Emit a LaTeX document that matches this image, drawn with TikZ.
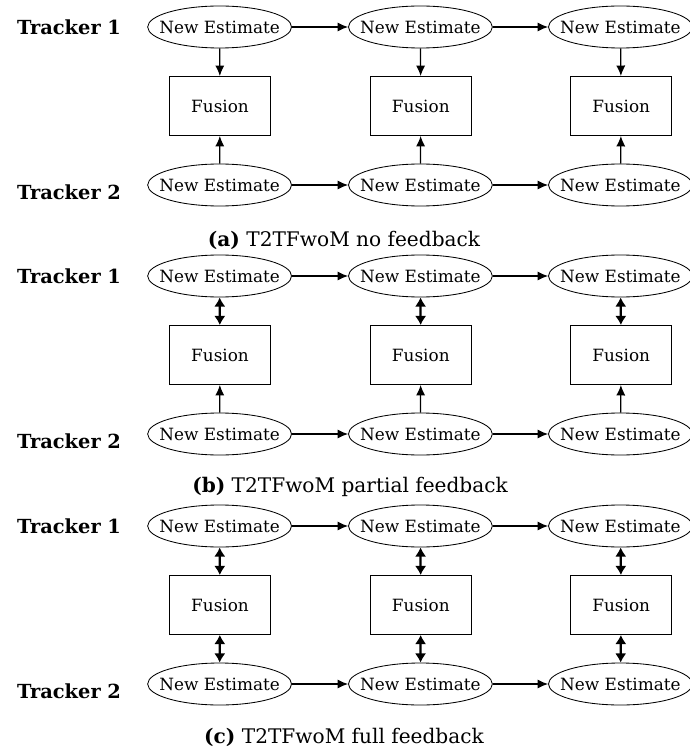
\documentclass[tikz,border=0pt]{standalone}
\usepackage{fontspec}
\setmainfont{DejaVu Serif}
\usepackage{tikz}
\usetikzlibrary{arrows.meta,shapes.geometric}
\tikzset{Est/.style={ellipse,draw,semithick,inner xsep=-0.235cm,inner ysep=0pt,minimum height=1.05cm,font=\fontsize{12}{14}\selectfont},
  Fus/.style={rectangle,draw,semithick,minimum width=2.525cm,minimum height=1.475cm,font=\fontsize{12}{14}\selectfont},
  Trk/.style={anchor=west,inner sep=0pt,font=\fontsize{13.8}{15}\selectfont\bfseries},
  Cap/.style={font=\fontsize{14.3}{16}\selectfont},
  one/.style={line width=0.9pt,-{Latex[length=7.5pt,width=6.5pt]}},
  two/.style={line width=1.6pt,{Latex[length=6.5pt,width=8pt]}-{Latex[length=6.5pt,width=8pt]}}}

\begin{document}
\begin{tikzpicture}
  \useasboundingbox[fill=white] (0,0) rectangle (17.225,-18.8);
  % (a) no feedback
  \node[Trk] (la1) at (0.42,-0.675) {Tracker 1};
  \node[Trk] (la2) at (0.42,-4.8) {Tracker 2};
  \node[Est] (a11) at (5.49,-0.675) {New Estimate};
  \node[Est] (a12) at (10.51,-0.675) {New Estimate};
  \node[Est] (a13) at (15.51,-0.675) {New Estimate};
  \node[Fus] (af1) at (5.5,-2.65) {Fusion};
  \node[Fus] (af2) at (10.52,-2.65) {Fusion};
  \node[Fus] (af3) at (15.53,-2.65) {Fusion};
  \node[Est] (a21) at (5.49,-4.625) {New Estimate};
  \node[Est] (a22) at (10.51,-4.625) {New Estimate};
  \node[Est] (a23) at (15.51,-4.625) {New Estimate};
  \begin{scope}[one]
    \draw (a11) -- (a12); \draw (a12) -- (a13);
    \draw (a21) -- (a22); \draw (a22) -- (a23);
    \draw (a11) -- (af1); \draw (a12) -- (af2); \draw (a13) -- (af3);
    \draw (a21) -- (af1); \draw (a22) -- (af2); \draw (a23) -- (af3);
  \end{scope}
  \node[Cap] (capa) at (8.6,-6.0) {\textbf{(a)} T2TFwoM no feedback};
  % (b) partial feedback
  \begin{scope}[yshift=-6.225cm]
    \node[Trk] (lb1) at (0.42,-0.675) {Tracker 1};
    \node[Trk] (lb2) at (0.42,-4.8) {Tracker 2};
    \node[Est] (b11) at (5.49,-0.675) {New Estimate};
    \node[Est] (b12) at (10.51,-0.675) {New Estimate};
    \node[Est] (b13) at (15.51,-0.675) {New Estimate};
    \node[Fus] (bf1) at (5.5,-2.65) {Fusion};
    \node[Fus] (bf2) at (10.52,-2.65) {Fusion};
    \node[Fus] (bf3) at (15.53,-2.65) {Fusion};
    \node[Est] (b21) at (5.49,-4.625) {New Estimate};
    \node[Est] (b22) at (10.51,-4.625) {New Estimate};
    \node[Est] (b23) at (15.51,-4.625) {New Estimate};
    \begin{scope}[one]
      \draw (b11) -- (b12); \draw (b12) -- (b13);
      \draw (b21) -- (b22); \draw (b22) -- (b23);
      \draw (b21) -- (bf1); \draw (b22) -- (bf2); \draw (b23) -- (bf3);
    \end{scope}
    \begin{scope}[two]
      \draw (b11) -- (bf1); \draw (b12) -- (bf2); \draw (b13) -- (bf3);
    \end{scope}
    \node[Cap] (capb) at (8.75,-5.95) {\textbf{(b)} T2TFwoM partial feedback};
  \end{scope}
  % (c) full feedback
  \begin{scope}[yshift=-12.475cm]
    \node[Trk] (lc1) at (0.42,-0.675) {Tracker 1};
    \node[Trk] (lc2) at (0.42,-4.8) {Tracker 2};
    \node[Est] (c11) at (5.49,-0.675) {New Estimate};
    \node[Est] (c12) at (10.51,-0.675) {New Estimate};
    \node[Est] (c13) at (15.51,-0.675) {New Estimate};
    \node[Fus] (cf1) at (5.5,-2.65) {Fusion};
    \node[Fus] (cf2) at (10.52,-2.65) {Fusion};
    \node[Fus] (cf3) at (15.53,-2.65) {Fusion};
    \node[Est] (c21) at (5.49,-4.625) {New Estimate};
    \node[Est] (c22) at (10.51,-4.625) {New Estimate};
    \node[Est] (c23) at (15.51,-4.625) {New Estimate};
    \begin{scope}[one]
      \draw (c11) -- (c12); \draw (c12) -- (c13);
      \draw (c21) -- (c22); \draw (c22) -- (c23);
    \end{scope}
    \begin{scope}[two]
      \draw (c11) -- (cf1); \draw (c12) -- (cf2); \draw (c13) -- (cf3);
      \draw (c21) -- (cf1); \draw (c22) -- (cf2); \draw (c23) -- (cf3);
    \end{scope}
    \node[Cap] (capc) at (8.6,-5.95) {\textbf{(c)} T2TFwoM full feedback};
  \end{scope}
\end{tikzpicture}
\end{document}
